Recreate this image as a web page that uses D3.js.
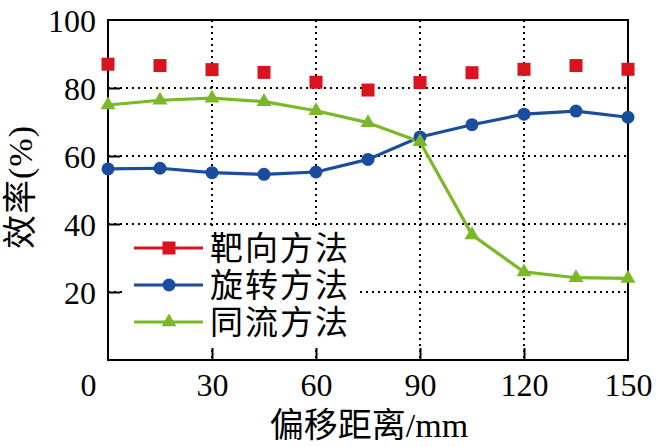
<!DOCTYPE html>
<html><head><meta charset="utf-8">
<script src="https://cdn.jsdelivr.net/npm/d3@7"></script>
<style>body{margin:0;background:#fff}svg{display:block}</style>
</head><body><svg id="c" width="662" height="447"></svg>
<script>
const offsets = [0, 15, 30, 45, 60, 75, 90, 105, 120, 135, 150];
const targetMethod = [87.0, 86.6, 85.4, 84.6, 81.7, 79.4, 81.6, 84.5, 85.5, 86.6, 85.5];
const rotateMethod = [56.2, 56.4, 55.1, 54.6, 55.3, 59.0, 65.6, 69.2, 72.3, 73.2, 71.4];
const coflowMethod = [75.0, 76.4, 77.0, 76.0, 73.3, 69.8, 64.2, 36.8, 25.9, 24.2, 24.0];
const seriesNames = ["靶向方法", "旋转方法", "同流方法"];
const xTicks = [0, 30, 60, 90, 120, 150];
const yTicks = [0, 20, 40, 60, 80, 100];

const svg = d3.select("#c");
const L = 108, R = 628, T = 20, B = 360;
const x = d3.scaleLinear().domain([0, 150]).range([L, R]);
const y = d3.scaleLinear().domain([0, 100]).range([B, T]);
const serif = "'Liberation Serif','Times New Roman',serif";
const cjk = "'Liberation Serif','Noto Sans CJK SC',serif";

// grid
const g = svg.append("g");
g.selectAll(".gy").data(yTicks.filter(d => d > 0 && d < 100)).enter().append("line")
  .attr("x1", L).attr("x2", R).attr("y1", d => y(d)).attr("y2", d => y(d))
  .attr("stroke", "#000").attr("stroke-width", 2).attr("stroke-dasharray", "2,4");
g.selectAll(".gx").data(xTicks.filter(d => d > 0 && d < 150)).enter().append("line")
  .attr("y1", T).attr("y2", B).attr("x1", d => x(d)).attr("x2", d => x(d))
  .attr("stroke", "#000").attr("stroke-width", 2).attr("stroke-dasharray", "2,4");

// axes
const xAxis = svg.append("g").attr("transform", `translate(0,${B})`)
  .call(d3.axisBottom(x).tickValues(xTicks).tickSize(-12).tickPadding(10).tickFormat(d3.format("d")));
const yAxis = svg.append("g").attr("transform", `translate(${L},0)`)
  .call(d3.axisLeft(y).tickValues(yTicks.filter(d => d > 0)).tickSize(-12).tickPadding(12).tickFormat(d3.format("d")));
[xAxis, yAxis].forEach(a => {
  a.select(".domain").remove();
  a.selectAll("line").attr("stroke", "#000").attr("stroke-width", 2);
  a.selectAll("text").attr("font-family", serif).attr("font-size", 32).attr("fill", "#000");
});
xAxis.selectAll(".tick text").attr("dy", "0.71em").attr("y", 13);
xAxis.selectAll(".tick").filter(d => d === 0).select("text").attr("dx", -20);
yAxis.selectAll(".tick text").attr("x", -12).attr("dy", "0.35em");
yAxis.selectAll(".tick").filter(d => d === 100).select("line").remove();
xAxis.selectAll(".tick").filter(d => d === 0 || d === 150).select("line").remove();

// frame
svg.append("rect").attr("x", L).attr("y", T).attr("width", R - L).attr("height", B - T)
  .attr("fill", "none").attr("stroke", "#000").attr("stroke-width", 2);

const colors = ["#d9141e", "#1b4d9e", "#7ab828"];

// lines
const lineGen = d3.line().x((d, i) => x(offsets[i])).y(d => y(d)).curve(d3.curveLinear);
svg.append("path").datum(rotateMethod).attr("d", lineGen).attr("fill", "none")
  .attr("stroke", colors[1]).attr("stroke-width", 3.2).attr("stroke-linejoin", "round");
svg.append("path").datum(coflowMethod).attr("d", lineGen).attr("fill", "none")
  .attr("stroke", colors[2]).attr("stroke-width", 3.2).attr("stroke-linejoin", "round");

// markers
svg.selectAll(".sq").data(targetMethod).enter().append("rect")
  .attr("x", (d, i) => x(offsets[i]) - 6.5).attr("y", d => y(d) - 6.5)
  .attr("width", 13).attr("height", 13).attr("fill", colors[0]);
svg.selectAll(".ci").data(rotateMethod).enter().append("circle")
  .attr("cx", (d, i) => x(offsets[i])).attr("cy", d => y(d)).attr("r", 6.5).attr("fill", colors[1]);
const tri = d3.symbol().type(d3.symbolTriangle).size(95);
svg.selectAll(".tr").data(coflowMethod).enter().append("path")
  .attr("d", tri).attr("transform", (d, i) => `translate(${x(offsets[i])},${y(d)})`).attr("fill", colors[2]);

// legend
const lg = svg.append("g");
lg.append("rect").attr("x", 124).attr("y", 228).attr("width", 232).attr("height", 118).attr("fill", "#fff");
const ly = [248, 285, 322];
seriesNames.forEach((name, i) => {
  lg.append("line").attr("x1", 134).attr("x2", 203).attr("y1", ly[i]).attr("y2", ly[i])
    .attr("stroke", colors[i]).attr("stroke-width", 3);
  const cx = 169;
  if (i === 0) lg.append("rect").attr("x", cx - 6.5).attr("y", ly[i] - 6.5).attr("width", 13).attr("height", 13).attr("fill", colors[0]);
  if (i === 1) lg.append("circle").attr("cx", cx).attr("cy", ly[i]).attr("r", 6.5).attr("fill", colors[1]);
  if (i === 2) lg.append("path").attr("d", tri).attr("transform", `translate(${cx},${ly[i]})`).attr("fill", colors[2]);
  lg.append("text").attr("x", 210).attr("y", ly[i]).attr("dy", "0.36em")
    .attr("font-family", cjk).attr("font-size", 33).attr("letter-spacing", 2).attr("fill", "#000").text(name);
});

// axis titles
svg.append("text").attr("x", 369).attr("y", 437).attr("text-anchor", "middle")
  .attr("font-family", cjk).attr("font-size", 34).attr("fill", "#000").text("偏移距离/mm");
svg.append("text").attr("transform", "translate(32,187) rotate(-90)").attr("text-anchor", "middle")
  .attr("font-family", cjk).attr("font-size", 34).attr("letter-spacing", 1).attr("fill", "#000").text("效率(%)");
</script></body></html>
